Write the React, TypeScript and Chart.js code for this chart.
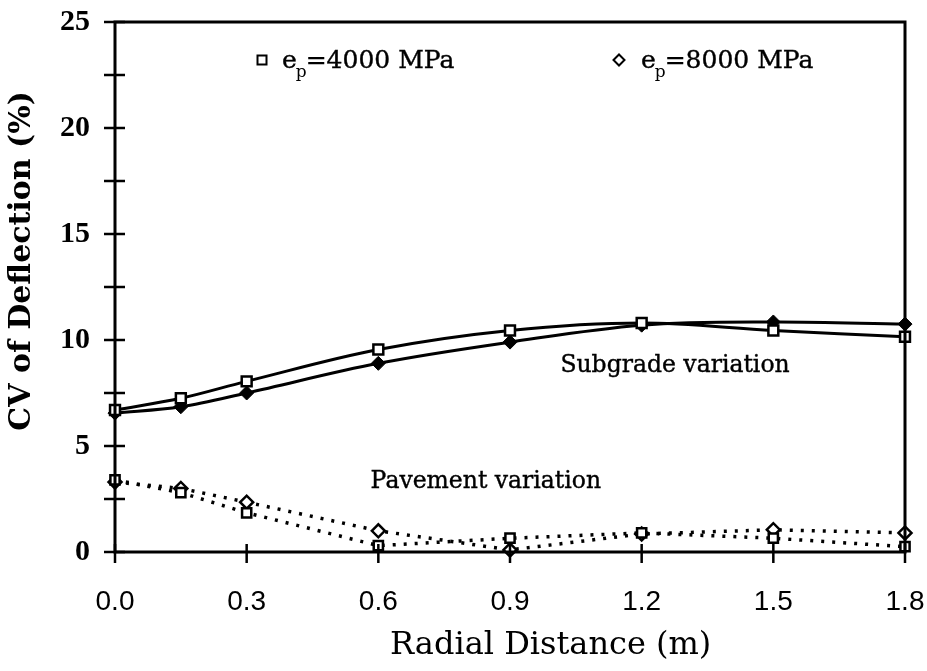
import React, { useEffect, useRef } from 'react';
import { Chart, registerables } from 'chart.js';

Chart.register(...registerables);

// ---- data ----
const radialDistance = [0, 0.15, 0.3, 0.6, 0.9, 1.2, 1.5, 1.8];
const subgrade4000 = [6.7, 7.25, 8.05, 9.55, 10.45, 10.8, 10.45, 10.15];
const subgrade8000 = [6.55, 6.85, 7.5, 8.9, 9.9, 10.7, 10.85, 10.75];
const pavement4000 = [3.4, 2.8, 1.85, 0.3, 0.65, 0.9, 0.65, 0.25];
const pavement8000 = [3.3, 3.0, 2.35, 1.0, 0.1, 0.85, 1.05, 0.9];
const xTickValues = [0, 0.3, 0.6, 0.9, 1.2, 1.5, 1.8];
const yTickValues = [0, 2.5, 5, 7.5, 10, 12.5, 15, 17.5, 20, 22.5, 25];
const yLabelledTicks = [0, 5, 10, 15, 20, 25];
const legendModuli = ['4000', '8000'];
const xTitle = 'Radial Distance (m)';
const yTitle = 'CV of Deflection (%)';
const subgradeNote = 'Subgrade variation';
const pavementNote = 'Pavement variation';

const toPoints = (ys: number[]) => radialDistance.map((x, i) => ({ x, y: ys[i] }));

const frameAndTicks = {
  id: 'frameAndTicks',
  afterDatasetsDraw(chart: any) {
    const { ctx, chartArea, scales } = chart;
    const { left, right, top, bottom } = chartArea;
    const x = scales.x;
    const y = scales.y;
    ctx.save();
    ctx.strokeStyle = '#000';
    ctx.lineWidth = 3;
    ctx.strokeRect(left, top, right - left, bottom - top);
    ctx.lineWidth = 2.5;
    ctx.beginPath();
    y.ticks.forEach((t: any) => {
      const py = y.getPixelForValue(t.value);
      ctx.moveTo(left - 11, py);
      ctx.lineTo(left + 10, py);
    });
    x.ticks.forEach((t: any) => {
      const px = x.getPixelForValue(t.value);
      ctx.moveTo(px, bottom - 8);
      ctx.lineTo(px, bottom + 11);
    });
    ctx.stroke();
    ctx.restore();
  },
};

const notesAndLegend = {
  id: 'notesAndLegend',
  afterDraw(chart: any) {
    const { ctx, chartArea, scales } = chart;
    const x = scales.x;
    const y = scales.y;
    ctx.save();
    ctx.fillStyle = '#000';
    ctx.strokeStyle = '#000';
    ctx.lineWidth = 0.4;
    ctx.textBaseline = 'middle';
    ctx.textAlign = 'center';
    ctx.font = '23.5px "DejaVu Serif"';
    const sx = x.getPixelForValue(1.276);
    const sy = y.getPixelForValue(8.8);
    const px = x.getPixelForValue(0.845);
    const py = y.getPixelForValue(3.3);
    ctx.fillText(subgradeNote, sx, sy);
    ctx.strokeText(subgradeNote, sx, sy);
    ctx.fillText(pavementNote, px, py);
    ctx.strokeText(pavementNote, px, py);

    // legend
    const rowY = chartArea.top + 38;
    const entries = [
      { sym: 'square', symX: chartArea.left + 147, textX: chartArea.left + 167, label: legendModuli[0] },
      { sym: 'diamond', symX: chartArea.left + 504, textX: chartArea.left + 526, label: legendModuli[1] },
    ];
    ctx.textAlign = 'left';
    ctx.textBaseline = 'alphabetic';
    entries.forEach((e) => {
      ctx.lineWidth = 2;
      ctx.beginPath();
      if (e.sym === 'square') {
        ctx.rect(e.symX - 4.5, rowY - 4.5, 9, 9);
      } else {
        ctx.moveTo(e.symX - 5.5, rowY);
        ctx.lineTo(e.symX, rowY - 5.5);
        ctx.lineTo(e.symX + 5.5, rowY);
        ctx.lineTo(e.symX, rowY + 5.5);
        ctx.closePath();
      }
      ctx.stroke();
      ctx.lineWidth = 0.4;
      const base = rowY + 8;
      ctx.font = '25px "DejaVu Serif"';
      ctx.fillText('e', e.textX, base);
      ctx.strokeText('e', e.textX, base);
      let cx = e.textX + ctx.measureText('e').width;
      ctx.font = '17px "DejaVu Serif"';
      ctx.fillText('p', cx - 1, base + 9);
      cx += ctx.measureText('p').width - 2;
      ctx.font = '25px "DejaVu Serif"';
      const rest = '=' + e.label + ' MPa';
      ctx.fillText(rest, cx, base);
      ctx.strokeText(rest, cx, base);
    });
    ctx.restore();
  },
};

export default function App() {
  const ref = useRef<HTMLCanvasElement | null>(null);

  useEffect(() => {
    if (!ref.current) return;
    const solid = { borderColor: '#000', borderWidth: 3, tension: 0.35, clip: false as any };
    const dotted = { borderColor: '#000', borderWidth: 3.5, borderDash: [3, 8], tension: 0, clip: false as any };
    const chart = new Chart(ref.current, {
      type: 'line',
      data: {
        datasets: [
          {
            ...solid,
            label: 'Subgrade 4000',
            data: toPoints(subgrade4000),
            pointStyle: 'rect',
            pointRadius: 7,
            pointBackgroundColor: '#fff',
            pointBorderColor: '#000',
            pointBorderWidth: 2.5,
          },
          {
            ...solid,
            label: 'Subgrade 8000',
            data: toPoints(subgrade8000),
            pointStyle: 'rectRot',
            pointRadius: 7,
            pointBackgroundColor: '#000',
            pointBorderColor: '#000',
            pointBorderWidth: 1,
          },
          {
            ...dotted,
            label: 'Pavement 4000',
            data: toPoints(pavement4000),
            pointStyle: 'rect',
            pointRadius: 6.5,
            pointBackgroundColor: '#fff',
            pointBorderColor: '#000',
            pointBorderWidth: 2.5,
          },
          {
            ...dotted,
            label: 'Pavement 8000',
            data: toPoints(pavement8000),
            pointStyle: 'rectRot',
            pointRadius: 6.5,
            pointBackgroundColor: '#fff',
            pointBorderColor: '#000',
            pointBorderWidth: 2.5,
          },
        ],
      },
      options: {
        animation: false,
        responsive: false,
        layout: { padding: { top: 22, right: 22, left: 0, bottom: 0 } },
        plugins: { legend: { display: false }, tooltip: { enabled: false } },
        scales: {
          x: {
            type: 'linear',
            min: 0,
            max: 1.8,
            afterBuildTicks: (s: any) => {
              s.ticks = xTickValues.map((v) => ({ value: v }));
            },
            afterFit: (s: any) => {
              s.height = 119;
              s.paddingLeft = 0;
              s.paddingRight = 0;
            },
            grid: { display: false, drawTicks: false },
            border: { display: false },
            ticks: {
              color: '#000',
              padding: 33,
              maxRotation: 0,
              font: { family: '"Liberation Sans"', size: 28 },
              callback: (v: any) => Number(v).toFixed(1),
            },
            title: {
              display: true,
              text: '        ' + xTitle,
              color: '#000',
              font: { family: '"DejaVu Serif"', size: 32 },
              padding: { top: 0, bottom: 6 },
            },
          },
          y: {
            type: 'linear',
            min: 0,
            max: 25,
            afterBuildTicks: (s: any) => {
              s.ticks = yTickValues.map((v) => ({ value: v }));
            },
            afterFit: (s: any) => {
              s.width = 115;
              s.paddingTop = 0;
              s.paddingBottom = 0;
            },
            grid: { display: false, drawTicks: false },
            border: { display: false },
            ticks: {
              color: '#000',
              padding: 25,
              font: { family: '"Liberation Serif"', size: 30, weight: 'bold' },
              callback: (v: any) => (yLabelledTicks.includes(Number(v)) ? String(v) : ''),
            },
            title: {
              display: true,
              text: '     ' + yTitle,
              color: '#000',
              font: { family: '"DejaVu Serif"', size: 30, weight: 'bold' },
              padding: { top: 4, bottom: 0 },
            },
          },
        },
      },
      plugins: [frameAndTicks, notesAndLegend],
    });
    return () => chart.destroy();
  }, []);

  return (
    <div style={{ position: 'fixed', left: 0, top: 0, width: 927, height: 671, background: '#fff' }}>
      <canvas ref={ref} width={927} height={671} style={{ display: 'block' }} />
    </div>
  );
}
